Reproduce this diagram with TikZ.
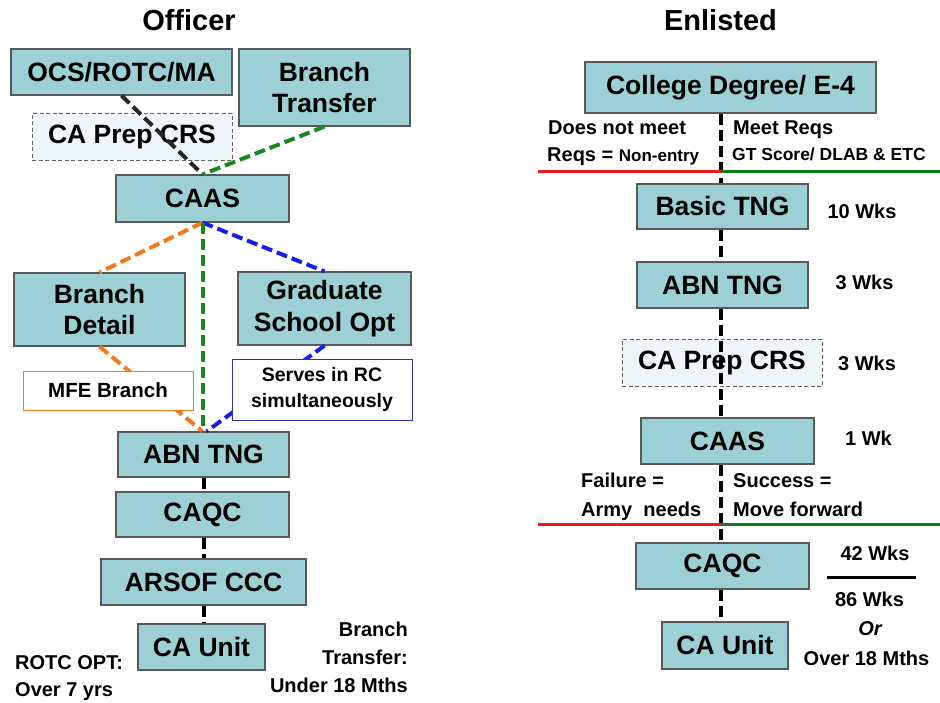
\documentclass[tikz,border=0pt]{standalone}
\usepackage{fontspec}
\setmainfont{Liberation Sans}
\definecolor{boxfill}{RGB}{157,208,213}
\definecolor{boxline}{RGB}{85,90,92}
\definecolor{prepfill}{RGB}{238,246,247}
\definecolor{prepline}{RGB}{95,100,102}
\definecolor{pathgreen}{RGB}{25,135,30}
\definecolor{pathorange}{RGB}{245,120,30}
\definecolor{pathblue}{RGB}{20,30,235}
\definecolor{notered}{RGB}{235,25,25}
\definecolor{notegreen}{RGB}{10,125,20}
\definecolor{rcblue}{RGB}{40,50,170}
\begin{document}
\begin{tikzpicture}[x=1pt,y=-1pt,
  box/.style={draw=boxline, fill=boxfill, line width=1.2pt, inner sep=0pt,
    font=\bfseries\fontsize{26.5}{31.5}\selectfont, align=center},
  prepbox/.style={box, draw=prepline, fill=prepfill, dash pattern=on 4pt off 2.5pt, line width=0.9pt},
  notebox/.style={fill=white, line width=0.9pt, inner sep=0pt,
    font=\bfseries\fontsize{19.5}{26}\selectfont, align=center},
  title/.style={inner sep=0pt, font=\bfseries\fontsize{29}{34}\selectfont},
  lbl/.style={inner sep=0pt, font=\bfseries\fontsize{20}{24}\selectfont},
  small/.style={inner sep=0pt, font=\bfseries\fontsize{17.5}{22}\selectfont},
  link/.style={line width=4pt, dash pattern=on 11pt off 5pt},
  spineline/.style={line width=4pt, dash pattern=on 11pt off 5pt, black},
  gate/.style={line width=3pt}
]
\useasboundingbox (0,0) rectangle (940,702);

% ---------------- Officer track ----------------
\node[title, anchor=base] (toff) at (189,30) {Officer};

\node[prepbox, minimum width=200pt, minimum height=47pt] (prep1) at (132,136.5) {CA Prep CRS};
\node[box, minimum width=221pt, minimum height=46pt] (ocs) at (121.5,72) {OCS/ROTC/MA};
\node[box, minimum width=171pt, minimum height=77pt] (bt) at (324.5,87.5) {Branch\\Transfer};
\node[box, minimum width=173pt, minimum height=47pt] (caas1) at (202.5,198.5) {CAAS};
\node[box, minimum width=171pt, minimum height=73pt] (bd) at (99.5,309.5) {Branch\\Detail};
\node[box, minimum width=173pt, minimum height=73pt] (gs) at (324.5,308.5) {Graduate\\School Opt};
\node[box, minimum width=171pt, minimum height=45pt] (abn1) at (203.5,454.5) {ABN TNG};
\node[box, minimum width=173pt, minimum height=45pt] (caqc1) at (202.5,514.5) {CAQC};
\node[box, minimum width=205pt, minimum height=46pt] (arsof) at (203.5,582) {ARSOF CCC};
\node[box, minimum width=127pt, minimum height=46pt] (unit1) at (201.5,647) {CA Unit};

% entry paths into CAAS
\draw[link, black!85] (ocs.south) -- (caas1.north);
\draw[link, pathgreen] (bt.south) -- (caas1.north);
% branching paths out of CAAS
\draw[link, pathorange] (caas1.south) -- (bd.north);
\draw[link, pathblue] (caas1.south) -- (gs.north);
\draw[link, pathorange] (bd.south) -- ([xshift=-1pt]abn1.north);
\draw[link, pathblue] (gs.south) -- ([xshift=3pt]abn1.north);
\draw[link, pathgreen] (caas1.south) -- (caas1.south |- abn1.north);
% main sequence
\draw[link, black] (abn1.south) -- (abn1.south |- caqc1.north);
\draw[link, black] (abn1.south |- caqc1.south) -- (abn1.south |- arsof.north);
\draw[link, black] (abn1.south |- arsof.south) -- (abn1.south |- unit1.north);

\node[notebox, draw=pathorange, minimum width=170pt, minimum height=39pt,
  font=\bfseries\fontsize{20.5}{26}\selectfont] (mfe) at (108,390.5) {MFE Branch};
\node[notebox, draw=rcblue, minimum width=180pt, minimum height=61pt] (rc) at (322,389.5) {Serves in RC\\simultaneously};

\node[lbl, anchor=base west] (rotc1) at (15,669) {ROTC OPT:};
\node[lbl, anchor=base west] (rotc2) at (15,696) {Over 7 yrs};
\node[lbl, anchor=base east] (btr1) at (408,636) {Branch};
\node[lbl, anchor=base east] (btr2) at (408,664) {Transfer:};
\node[lbl, anchor=base east] (btr3) at (408,692) {Under 18 Mths};

% ---------------- Enlisted track ----------------
\node[title, anchor=base] (tenl) at (720.5,30) {Enlisted};
\coordinate (spine) at (721,0);

\node[prepbox, minimum width=200pt, minimum height=47pt] (prep2) at (722,362.5) {CA Prep CRS};
\node[box, minimum width=291pt, minimum height=51pt] (cd) at (730.5,87.5) {College Degree/ E-4};
\node[box, minimum width=171pt, minimum height=45pt] (basic) at (722.5,206.5) {Basic TNG};
\node[box, minimum width=171pt, minimum height=46pt] (abn2) at (722.5,285) {ABN TNG};
\node[box, minimum width=173pt, minimum height=46pt] (caas2) at (727.5,441) {CAAS};
\node[box, minimum width=173pt, minimum height=46pt] (caqc2) at (722.5,566) {CAQC};
\node[box, minimum width=126pt, minimum height=47pt] (unit2) at (725,645.5) {CA Unit};

\draw[spineline] (cd.south -| spine) -- (basic.north -| spine);
\draw[spineline] (basic.south -| spine) -- (abn2.north -| spine);
\draw[spineline] (abn2.south -| spine) -- (caas2.north -| spine);
\draw[spineline] (caas2.south -| spine) -- (caqc2.north -| spine);
\draw[spineline] (caqc2.south -| spine) -- (unit2.north -| spine);

% entry gate
\coordinate (g1l) at (538,171);
\coordinate (g1m) at (721,171);
\coordinate (g1r) at (940,171);
\draw[gate, notered] (g1l) -- (g1m);
\draw[gate, notegreen] (g1m) -- (g1r);
\node[lbl, anchor=base west] (nm1) at (548,134) {Does not meet};
\node[anchor=base west, inner sep=0pt] (nm2) at (547,161)
  {\bfseries\fontsize{20}{24}\selectfont Reqs = \fontsize{17}{22}\selectfont Non-entry};
\node[lbl, anchor=base west] (mr1) at (733,134) {Meet Reqs};
\node[small, anchor=base west] (mr2) at (732,160) {GT Score/ DLAB \& ETC};

% CAAS gate
\coordinate (g2l) at (538,524);
\coordinate (g2m) at (721,524);
\coordinate (g2r) at (940,524);
\draw[gate, notered] (g2l) -- (g2m);
\draw[gate, notegreen] (g2m) -- (g2r);
\node[lbl, anchor=base west] (f1) at (581,487) {Failure =};
\node[lbl, anchor=base west] (f2) at (581,516) {Army\ \ needs};
\node[lbl, anchor=base west] (s1) at (733,487) {Success =};
\node[lbl, anchor=base west] (s2) at (733,516) {Move forward};

% durations
\node[lbl, anchor=base] (w1) at (862,218) {10 Wks};
\node[lbl, anchor=base] (w2) at (864.5,289) {3 Wks};
\node[lbl, anchor=base] (w3) at (867,370) {3 Wks};
\node[lbl, anchor=base] (w4) at (868.5,445) {1 Wk};
\node[lbl, anchor=base] (w5) at (875,560) {42 Wks};
\coordinate (barl) at (827,577);
\coordinate (barr) at (916,577);
\draw[line width=3pt, black] (barl) -- (barr);
\node[lbl, anchor=base] (w6) at (869.5,606) {86 Wks};
\node[lbl, anchor=base] (w7) at (870,635) {\itshape Or};
\node[lbl, anchor=base] (w8) at (866.5,665) {Over 18 Mths};
\end{tikzpicture}
\end{document}
